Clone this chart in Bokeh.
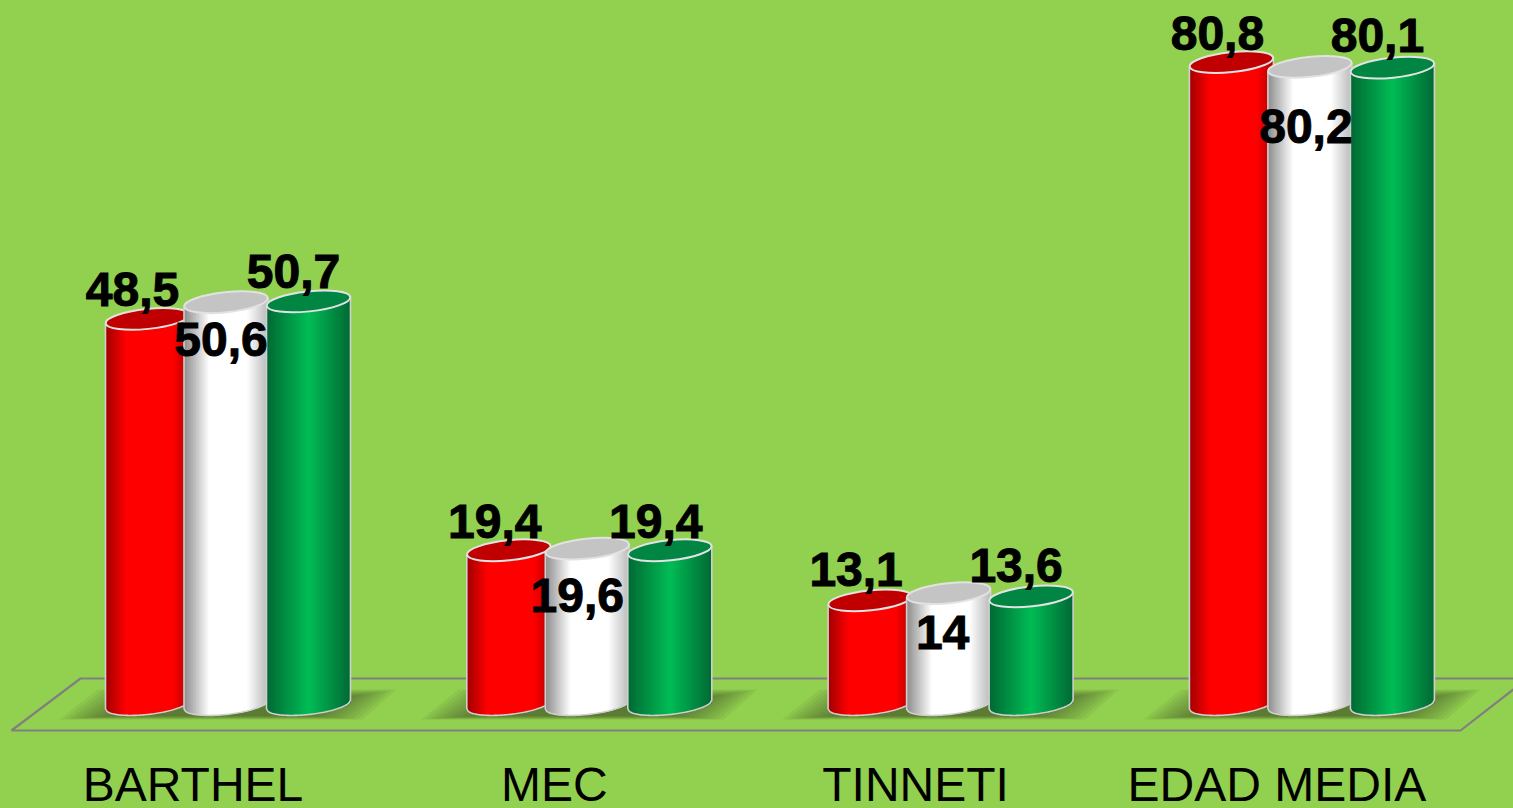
import math
from bokeh.plotting import figure
from bokeh.models import ColumnDataSource, FixedTicker
from bokeh.core.properties import value
from bokeh.embed import file_html
from bokeh.resources import INLINE

categories = ["BARTHEL", "MEC", "TINNETI", "EDAD MEDIA"]
series_red = [48.5, 19.4, 13.1, 80.8]
series_white = [50.6, 19.6, 14, 80.2]
series_green = [50.7, 19.4, 13.6, 80.1]
label_red = ["48,5", "19,4", "13,1", "80,8"]
label_white = ["50,6", "19,6", "14", "80,2"]
label_green = ["50,7", "19,4", "13,6", "80,1"]

# label nudges in screen pixels (hand placed in the original)
nudge_red = [(-15, -10), (-14, -10), (-14, -12), (-14, -10)]
nudge_white = [(-5, 56), (-10, 66), (-6, 58), (-4, 79)]
nudge_green = [(-15, -11), (-14, -10), (-15, -12), (-15, -13)]
LABEL_DY = -19

W, FRAME_H, AXIS_H = 1513, 745, 63
BG = "#92D050"
CAT_PX, CAT0_PX = 361.3, 192.5     # px per category, px of first category
Y0_PX, Y_PX = 704.0, 7.95          # px of value 0, px per unit
A, B, TILT = 42.0, 10.0, math.radians(6)   # cylinder ellipse (px)
SERIES_DX = [-45.5, 33.0, 115.5]

def dx(px):
    return px / CAT_PX
def dy(px):
    return px / Y_PX
def X(px):
    return (px - CAT0_PX) / CAT_PX
def Y(px):
    return (Y0_PX - px) / Y_PX

p = figure(
    frame_width=W, frame_height=FRAME_H, min_border=0, min_border_bottom=AXIS_H,
    x_range=(X(0), X(W)), y_range=(Y(FRAME_H), Y(0)),
    output_backend="svg", toolbar_location=None,
    background_fill_alpha=0, border_fill_color=BG, outline_line_color=None,
    styles={"position": "fixed", "left": "0px", "top": "0px", "background-color": BG},
)
p.grid.visible = False
p.yaxis.visible = False
ax = p.xaxis[0]
ax.ticker = FixedTicker(ticks=list(range(len(categories))))
ax.major_label_overrides = {i: c for i, c in enumerate(categories)}
ax.axis_line_color = None
ax.major_tick_line_color = None
ax.minor_tick_line_color = None
ax.major_label_text_font = "Liberation Sans"
ax.major_label_text_font_size = "48px"
ax.major_label_text_color = "#000000"
ax.major_label_standoff = 6

# floor
p.patch([X(11), X(1460), X(1527), X(80)], [Y(730), Y(730), Y(678), Y(678)],
        fill_color=None, line_color="#808080", line_width=2.2)

# soft shadows
for i in range(len(categories)):
    left = CAT0_PX + i * CAT_PX + SERIES_DX[0] - A
    right = CAT0_PX + i * CAT_PX + SERIES_DX[2] + A
    for k in range(12):
        p.patch(
            [X(left - 46 + 5 * k), X(left - 8 + 5 * k), X(right + 46 - 5 * k), X(right + 12 - 5 * k)],
            [Y(719 - 0.35 * k), Y(689 + 0.8 * k), Y(689 + 0.8 * k), Y(719 - 0.35 * k)],
            fill_color="#3A4A20", fill_alpha=0.08, line_color=None,
        )

def lerp_stops(stops, t):
    for (t0, c0), (t1, c1) in zip(stops, stops[1:]):
        if t <= t1:
            f = (t - t0) / (t1 - t0)
            rgb = [round(c0[j] + (c1[j] - c0[j]) * f) for j in range(3)]
            return "#%02x%02x%02x" % tuple(rgb)
    return "#%02x%02x%02x" % stops[-1][1]

RED = {"cap": "#C00000", "stops": [(0, (160, 0, 0)), (.25, (255, 0, 0)), (.8, (255, 0, 0)), (1, (175, 0, 0))]}
WHITE = {"cap": "#C4C4C4", "stops": [(0, (140, 140, 140)), (.3, (255, 255, 255)), (.75, (255, 255, 255)), (1, (185, 185, 185))]}
GREEN = {"cap": "#008542", "stops": [(0, (0, 105, 52)), (.5, (0, 188, 85)), (1, (0, 105, 52))]}
EDGE = "#CFCFCF"
N = 56

def lower(u):
    return -B * math.sqrt(max(0, 1 - (u / A) ** 2)) + u * math.tan(TILT)

series = [(series_red, label_red, nudge_red, RED),
          (series_white, label_white, nudge_white, WHITE),
          (series_green, label_green, nudge_green, GREEN)]

for s, (vals, labs, nudges, style) in enumerate(series):
    left, right, top, bottom, color = [], [], [], [], []
    xs_edge, ys_edge = [], []
    for i, v in enumerate(vals):
        c = i + dx(SERIES_DX[s])
        us = [-A + 2 * A * n / N for n in range(N + 1)]
        for n in range(N):
            um = (us[n] + us[n + 1]) / 2
            # each strip runs under the next one, so no seam shows between them
            u_right = us[min(n + 2, N)]
            left.append(c + dx(us[n]))
            right.append(c + dx(u_right))
            top.append(v + dy(um * math.tan(TILT)))
            bottom.append(dy(lower(um)))
            color.append(lerp_stops(style["stops"], (um + A) / (2 * A)))
        xs_edge.append([c + dx(-A)] + [c + dx(u) for u in us] + [c + dx(A)])
        ys_edge.append([v - dy(A * math.tan(TILT))] + [dy(lower(u)) for u in us] + [v + dy(A * math.tan(TILT))])
    src = ColumnDataSource(dict(left=left, right=right, top=top, bottom=bottom, color=color))
    p.quad(left="left", right="right", top="top", bottom="bottom", source=src,
           fill_color="color", line_color=None)
    p.multi_line(xs_edge, ys_edge, line_color=EDGE, line_width=1.6)
    p.ellipse(x=[i + dx(SERIES_DX[s]) for i in range(len(vals))], y=vals,
              width=dx(2 * A), height=dy(2 * B), angle=TILT,
              fill_color=style["cap"], line_color="#E2E2E2", line_width=2)

for s, (vals, labs, nudges, style) in enumerate(series):
    src = ColumnDataSource(dict(
        x=[i + dx(SERIES_DX[s]) for i in range(len(vals))], y=vals, t=labs,
        ox=[n[0] for n in nudges], oy=[n[1] + LABEL_DY for n in nudges]))
    p.text(x="x", y="y", text="t", source=src, x_offset="ox", y_offset="oy",
           text_font=value("Liberation Sans"), text_font_style="bold",
           text_font_size="48px", text_color="#000000", text_outline_color="#000000",
           text_align="center", text_baseline="alphabetic")

open("out.html", "w").write(file_html(p, INLINE))
